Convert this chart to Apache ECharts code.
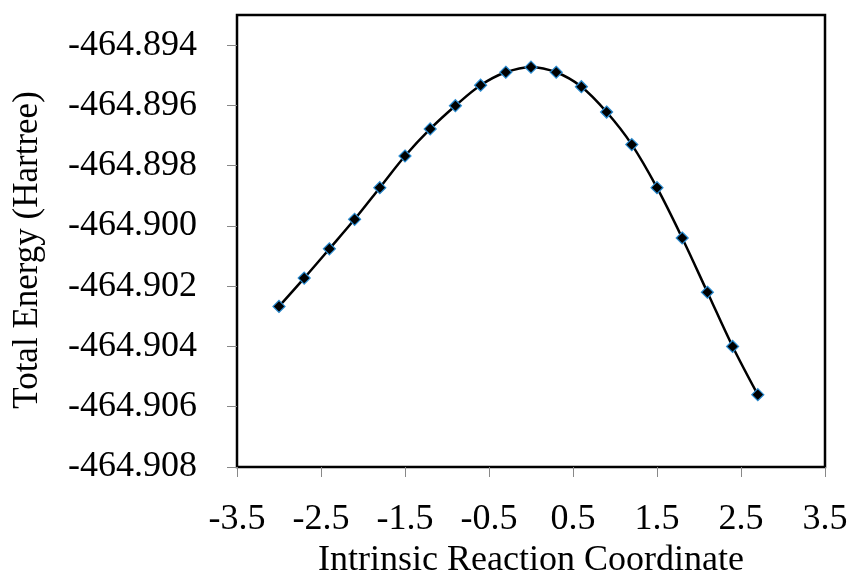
<!DOCTYPE html>
<html>
<head>
<meta charset="utf-8">
<script src="https://cdn.jsdelivr.net/npm/echarts@6/dist/echarts.min.js"></script>
<style>
html,body{margin:0;padding:0;background:#fff;}
#chart{width:849px;height:579px;}
</style>
</head>
<body>
<div id="chart"></div>
<script>
var ircX = [-3.0, -2.7, -2.4, -2.1, -1.8, -1.5, -1.2, -0.9, -0.6, -0.3, 0.0, 0.3, 0.6, 0.9, 1.2, 1.5, 1.8, 2.1, 2.4, 2.7];
var totalEnergy = [-464.90267, -464.90173, -464.90076, -464.89978, -464.89873, -464.89768, -464.89678, -464.89601, -464.89533, -464.89490, -464.89473, -464.89490, -464.89538, -464.89622, -464.89730, -464.89873, -464.90040, -464.90220, -464.90400, -464.90560];
var xTicks = [-3.5, -2.5, -1.5, -0.5, 0.5, 1.5, 2.5, 3.5];
var yTicks = [-464.908, -464.906, -464.904, -464.902, -464.900, -464.898, -464.896, -464.894];

var FONT = '"Liberation Serif","Times New Roman",serif';
var chart = echarts.init(document.getElementById('chart'), null, {renderer: 'canvas'});
var pts = ircX.map(function (x, i) { return [x, totalEnergy[i]]; });

chart.setOption({
  animation: false,
  backgroundColor: '#ffffff',
  grid: {left: 237, right: 24, top: 15, bottom: 112, outerBoundsMode: 'none', containLabel: false,
    show: true, borderColor: '#000', borderWidth: 2.5, backgroundColor: 'transparent'},
  xAxis: {
    type: 'value', min: -3.5, max: 3.5,
    name: 'Intrinsic Reaction Coordinate', nameLocation: 'middle', nameGap: 75,
    nameTextStyle: {fontFamily: FONT, fontSize: 36, color: '#000'},
    axisLine: {show: true, onZero: false, lineStyle: {color: '#000', width: 2}},
    axisTick: {show: true, inside: false, length: 10, lineStyle: {color: '#888', width: 1}, customValues: xTicks},
    axisLabel: {fontFamily: FONT, fontSize: 36, color: '#000', margin: 35, customValues: xTicks,
      formatter: function (v) { return v.toFixed(1); }},
    splitLine: {show: false}
  },
  yAxis: {
    type: 'value', min: -464.908, max: -464.893,
    name: 'Total Energy (Hartree)', nameLocation: 'middle', nameGap: 192,
    nameTextStyle: {fontFamily: FONT, fontSize: 35, color: '#000', padding: [0, 18, 0, 0]},
    axisLine: {show: true, onZero: false, lineStyle: {color: '#000', width: 2}},
    axisTick: {show: true, inside: false, length: 10, lineStyle: {color: '#888', width: 1}, customValues: yTicks},
    axisLabel: {fontFamily: FONT, fontSize: 36, color: '#000', margin: 40, customValues: yTicks,
      formatter: function (v) { return v.toFixed(3); }},
    splitLine: {show: false}
  },
  series: [{
    type: 'line',
    data: pts,
    smooth: 0.35,
    symbol: 'diamond',
    symbolSize: 12,
    lineStyle: {color: '#000', width: 2.5},
    itemStyle: {color: '#000', borderColor: '#2a8bd0', borderWidth: 1.2},
    z: 3
  }]
});
</script>
</body>
</html>
